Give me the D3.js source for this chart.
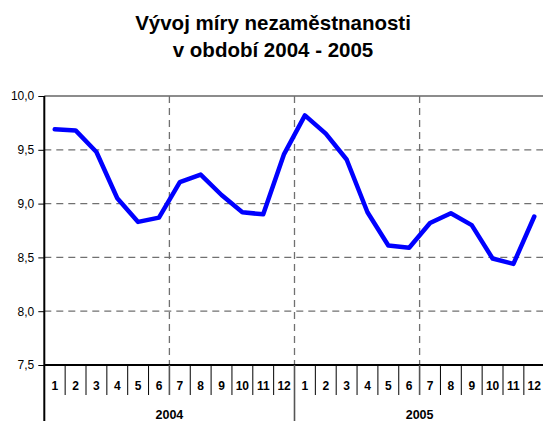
<!DOCTYPE html>
<html><head><meta charset="utf-8">
<script src="https://cdn.jsdelivr.net/npm/d3@7"></script>
<style>body{margin:0;background:#fff}svg{display:block;font-family:Arial,"Liberation Sans",sans-serif}</style>
</head><body><svg id="c" width="543" height="421"></svg>
<script>
const titleLines = ["Vývoj míry nezaměstnanosti", "v období 2004 - 2005"];
const years = ["2004", "2005"];
const months = ["1","2","3","4","5","6","7","8","9","10","11","12"];
const values = [9.69,9.68,9.48,9.05,8.83,8.87,9.20,9.27,9.08,8.92,8.90,9.46,
                9.82,9.65,9.41,8.92,8.61,8.59,8.82,8.91,8.80,8.49,8.44,8.88];
const yTicks = [7.5,8.0,8.5,9.0,9.5,10.0];

const svg = d3.select("#c");
const L = 44.3, R = 544.7, T = 96, B = 365;
const cats = [];
years.forEach(y => months.forEach(m => cats.push(y + "-" + m)));
const x = d3.scaleBand().domain(cats).range([L, R]).padding(0);
const y = d3.scaleLinear().domain([7.5, 10]).range([B, T]);
const fmt = v => d3.format(".1f")(v).replace(".", ",");

// title
svg.append("g").selectAll("text").data(titleLines).join("text")
  .attr("x", 273).attr("y", (d,i) => 29.5 + i*27)
  .attr("text-anchor", "middle").attr("font-weight", "bold").attr("font-size", 20.5)
  .attr("fill", "#000").text(d => d);

// horizontal gridlines
svg.append("g").selectAll("line").data(yTicks.filter(t => t > 7.5 && t < 10)).join("line")
  .attr("x1", L).attr("x2", R).attr("y1", d => y(d)).attr("y2", d => y(d))
  .attr("stroke", "#707070").attr("stroke-width", 1.3).attr("stroke-dasharray", "7,5");
// top border
svg.append("line").attr("x1", L).attr("x2", R).attr("y1", y(10)).attr("y2", y(10))
  .attr("stroke", "#8c8c8c").attr("stroke-width", 2);

// vertical gridlines every 6 months
const vIdx = [6, 12, 18];
svg.append("g").selectAll("line").data(vIdx).join("line")
  .attr("x1", d => x(cats[d])).attr("x2", d => x(cats[d]))
  .attr("y1", T).attr("y2", B)
  .attr("stroke", "#707070").attr("stroke-width", 1.3).attr("stroke-dasharray", "7,5");

// y axis
const yAxis = d3.axisLeft(y).tickValues(yTicks).tickFormat(fmt).tickSize(6).tickPadding(4);
const gy = svg.append("g").attr("transform", `translate(${L},0)`).call(yAxis);
gy.select(".domain").remove();
gy.selectAll(".tick line").attr("stroke", "#000").attr("stroke-width", 1);
gy.selectAll(".tick text").attr("font-size", 12).attr("fill", "#000")
  .attr("font-family", "Arial,'Liberation Sans',sans-serif");
svg.append("line").attr("x1", L).attr("x2", L).attr("y1", T).attr("y2", 421)
  .attr("stroke", "#000").attr("stroke-width", 2);

// x axis (bottom)
svg.append("line").attr("x1", L).attr("x2", R).attr("y1", B).attr("y2", B)
  .attr("stroke", "#000").attr("stroke-width", 2);
// month separators
svg.append("g").selectAll("line").data(cats.slice(1)).join("line")
  .attr("x1", d => x(d)).attr("x2", d => x(d))
  .attr("y1", B).attr("y2", (d,i) => (i+1) % 12 === 0 ? 421 : 395)
  .attr("stroke", (d,i) => (i+1) % 6 === 0 ? "#555" : "#000")
  .attr("stroke-width", (d,i) => (i+1) % 6 === 0 ? 1.6 : 1);
// month labels
svg.append("g").selectAll("text").data(cats).join("text")
  .attr("x", d => x(d) + x.bandwidth()/2).attr("y", 390)
  .attr("text-anchor", "middle").attr("font-weight", "bold").attr("font-size", 12)
  .text(d => d.split("-")[1]);
// year labels
svg.append("g").selectAll("text").data(years).join("text")
  .attr("x", yr => (x(yr + "-1") + x(yr + "-12") + x.bandwidth())/2).attr("y", 419)
  .attr("text-anchor", "middle").attr("font-weight", "bold").attr("font-size", 12.5)
  .text(d => d);

// data line
const line = d3.line().x((d,i) => x(cats[i]) + x.bandwidth()/2).y(d => y(d));
svg.append("path").datum(values).attr("d", line)
  .attr("fill", "none").attr("stroke", "#0000ff").attr("stroke-width", 4.5)
  .attr("stroke-linejoin", "round").attr("stroke-linecap", "round");
</script></body></html>
